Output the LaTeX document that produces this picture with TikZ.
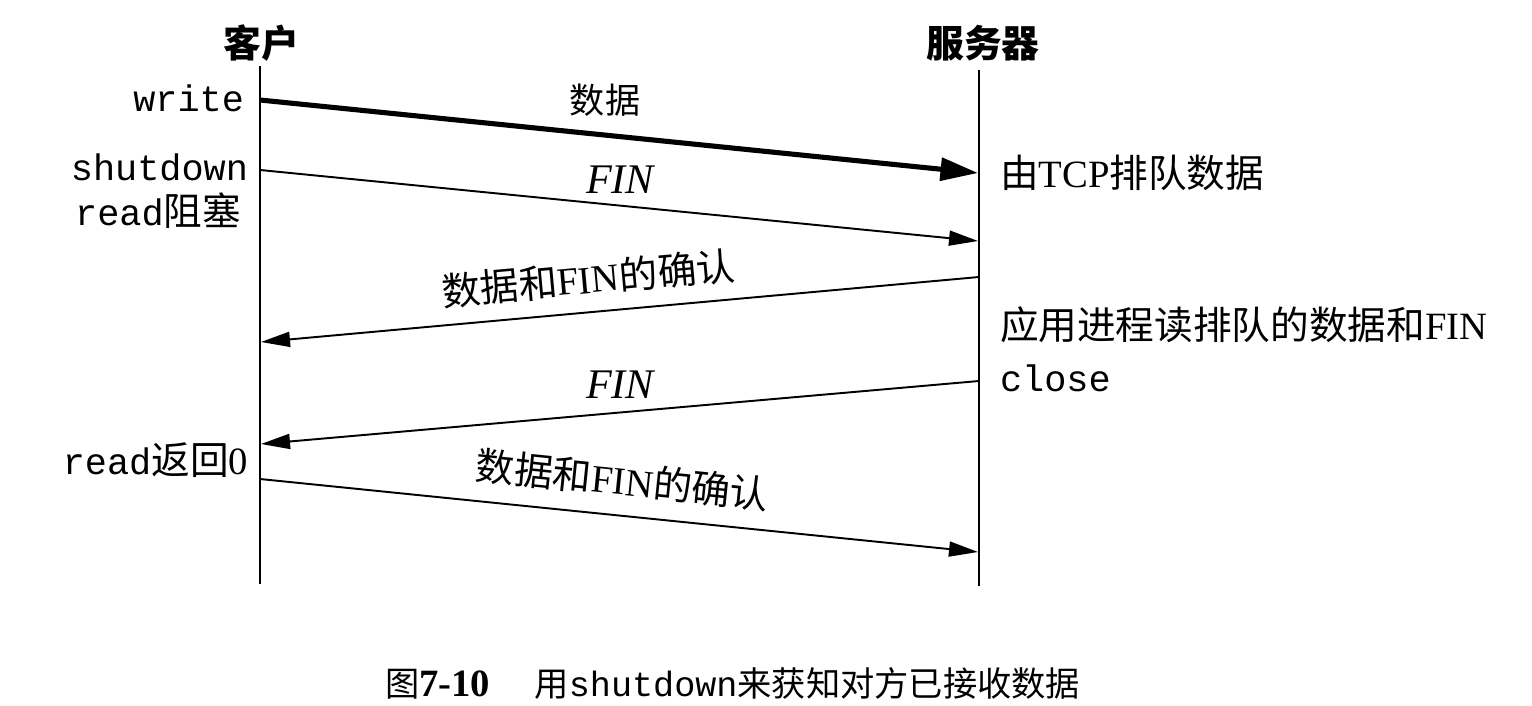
\documentclass[tikz,border=0pt]{standalone}
\usepackage{fontspec}
\setmainfont{Liberation Serif}
\setmonofont{Liberation Mono}
\newfontfamily\cjk{Noto Sans CJK SC}
\usetikzlibrary{arrows.meta}

\begin{document}
\begin{tikzpicture}[x=0.02cm,y=-0.02cm,
  every node/.style={inner sep=0pt, outer sep=0pt, font=\fontsize{22}{26}\selectfont},
  lifeline/.style={line width=1.3pt},
  msg/.style={line width=1.1pt, -{Triangle[length=0.58cm,width=0.3cm]}},
  bigmsg/.style={line width=2.9pt, -{Triangle[length=0.75cm,width=0.45cm]}},
  head/.style={font=\fontsize{21.5}{24}\selectfont\cjk\bfseries},
  calltext/.style={font=\fontsize{21}{24}\selectfont\ttfamily},
  note/.style={font=\fontsize{22}{26}\selectfont},
  finlabel/.style={font=\fontsize{24}{28}\selectfont\itshape},
  caption/.style={font=\fontsize{19.5}{24}\selectfont}]
  \useasboundingbox (0,0) rectangle (1532,706);

  % participants
  \node[head] (client) at (261,43) {客户};
  \node[head] (server) at (983,43) {服务器};
  \coordinate (ctop) at (260,66);
  \coordinate (cbot) at (260,584);
  \coordinate (stop) at (979,70);
  \coordinate (sbot) at (979,586);
  \draw[lifeline] (ctop) -- (cbot);
  \draw[lifeline] (stop) -- (sbot);

  % message end points on the lifelines
  \coordinate (c1) at (260,100);
  \coordinate (s1) at (978,173);
  \coordinate (c2) at (260,170);
  \coordinate (s2) at (978,241);
  \coordinate (s3) at (979,277);
  \coordinate (c3) at (261,342);
  \coordinate (s4) at (979,381);
  \coordinate (c4) at (261,444);
  \coordinate (c5) at (260,479);
  \coordinate (s5) at (978,552);

  % messages
  \draw[bigmsg] (c1) -- (s1);
  \node[font=\fontsize{20}{24}\selectfont\cjk] (ldata) at (605,100) {数据};
  \draw[msg] (c2) -- (s2);
  \node[finlabel] (lfin1) at (620,180) {FIN};
  \draw[msg] (s3) -- node[pos=0.54, above=9pt, sloped, note] (lack1) {\cjk 数据和{\rmfamily FIN}的确认} (c3);
  \draw[msg] (s4) -- (c4);
  \node[finlabel] (lfin2) at (620,385) {FIN};
  \draw[msg] (c5) -- node[pos=0.50, above=10pt, sloped, note] (lack2) {\cjk 数据和{\rmfamily FIN}的确认} (s5);

  % client side calls
  \node[calltext, anchor=east] (lwrite) at (244,98) {write};
  \node[calltext, anchor=east] (lshut) at (248,167) {shutdown};
  \node[calltext, anchor=east] (lread) at (241,211) {read{\fontsize{22}{26}\selectfont\cjk 阻塞}};
  \node[calltext, anchor=east] (lret) at (248,460) {read{\fontsize{22}{26}\selectfont\cjk 返回\rmfamily 0}};

  % server side events
  \node[note, anchor=west] (lqueue) at (1000,173) {{\cjk 由}TCP{\cjk 排队数据}};
  \node[note, anchor=west] (lapp) at (1000,325) {{\cjk 应用进程读排队的数据和}FIN};
  \node[calltext, anchor=west] (lclose) at (1000,378) {close};

  % caption
  \node[caption, anchor=west] (caption) at (385,683) {{\cjk 图}{\fontsize{22}{26}\selectfont\bfseries 7-10}\hspace{1.3em}{\cjk 用}{\fontsize{20}{24}\selectfont\ttfamily shutdown}{\cjk 来获知对方已接收数据}};
\end{tikzpicture}
\end{document}
